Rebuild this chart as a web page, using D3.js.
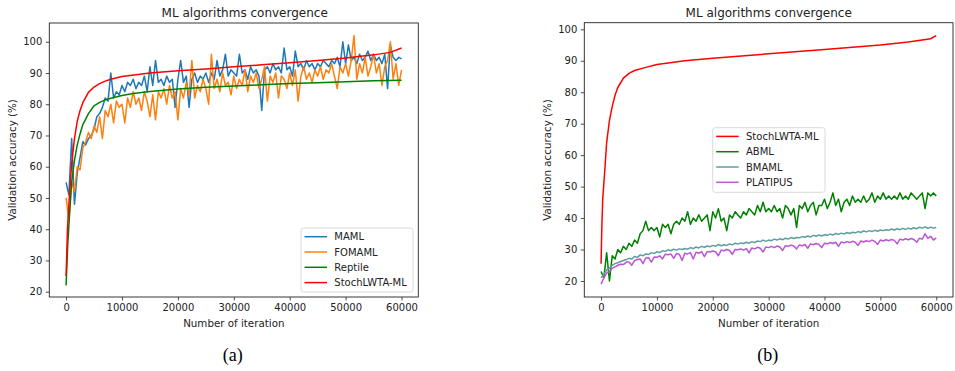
<!DOCTYPE html>
<html><head><meta charset="utf-8">
<script src="https://cdn.jsdelivr.net/npm/d3@7"></script>
<style>
body{margin:0;background:#fff;}
svg{display:block;font-family:"DejaVu Sans",sans-serif;}
</style></head>
<body><svg id="c" width="955" height="371"></svg>
<script>
// ---------------- DATA ----------------
const title = "ML algorithms convergence";
const xLabel = "Number of iteration";
const yLabel = "Validation accuracy (%)";
const xTicks = [0, 10000, 20000, 30000, 40000, 50000, 60000];
const yTicks = [20, 30, 40, 50, 60, 70, 80, 90, 100];
const captions = ["(a)", "(b)"];

// noisy series sampled every 500 iterations (0 .. 60000)
const iterStep = 500;
const mamlVals = [
 55,51,69,48,58,63,68,67,69,70,72,
 76,77,79,82,81,90,82,84,83,86,
 84,87,86,88,85,87,86,89,84,92,
 86,94,87,88,86,89,87,88,79,88,
 94,87,89,79,88,90,87,89,88,90,
 87,90,88,94,89,91,96,89,91,90,
 89,96,90,91,88,92,90,91,89,78,
 91,92,90,93,91,92,90,98,91,92,
 89,97,92,93,91,94,92,93,91,93,
 92,94,93,92,94,93,95,92,100,93,
 99,94,95,93,96,94,95,97,94,96,
 94,95,93,96,85,99,95,94,95,94.5];
const fomamlVals = [
 50,43,55,52,60,59,66,68,71,69,73,
 71,76,69,78,76,80,74,81,79,80,
 74,82,79,84,80,82,78,84,81,76,
 83,75,84,82,85,80,86,82,84,75,
 85,82,87,83,94,82,86,84,88,85,
 80,96,85,88,84,90,86,87,83,89,
 85,88,86,91,84,89,87,90,85,88,
 92,81,89,87,90,82,89,88,85,90,
 86,91,81,89,92,88,90,87,91,89,
 92,88,91,90,93,89,85,92,90,93,
 89,94,102,88,93,90,95,89,92,96,
 90,93,86,92,94,100,88,93,86,91];
const abmlVals = [
 23,21,29,20,28,27,30,29,31,30,32,
 31,33,32,35,36,39,36,37,36,37,
 34,38,37,38,35,38,39,38,40,39,
 42,38,40,39,41,39,40,41,36,42,
 40,43,39,40,36,41,40,42,41,40,
 42,41,43,42,41,44,42,45,42,43,
 42,44,42,43,40,44,43,41,43,37,
 44,43,45,42,44,45,41,44,44,46,
 43,45,48,44,46,42,45,46,44,47,
 45,46,45,47,45,46,48,45,47,46,
 48,46,47,46,47,46,48,46,47,46,
 48,47,46,47,48,43,48,47,48,47];
const bmamlVals = [
 21,22,23.5,24,25,25.5,25.8,26.2,26.5,26.8,27.2,
 27,27.8,27.5,28.3,28,28.6,28.4,29,28.7,29.3,
 29,29.6,29.4,29.9,29.6,30.1,29.8,30.2,30,30.3,
 30.1,30.6,30.3,30.8,30.5,31,30.7,31.1,30.9,31.3,
 31,31.6,31.2,31.5,31.3,31.8,31.5,32,31.7,32.1,
 31.9,32.3,32,32.5,32.2,32.7,32.5,33,32.6,33,
 32.8,33.3,33,33.4,33.1,33.6,33.3,33.8,33.5,33.8,
 33.7,34.1,33.9,34.3,34,34.5,34.2,34.6,34.3,34.7,
 34.5,34.9,34.6,35.1,34.8,35.2,34.9,35.4,35.1,35.5,
 35.3,35.7,35.4,35.9,35.6,36,35.7,36.1,35.8,36.2,
 36,36.3,36.1,36.5,36.2,36.6,36.3,36.7,36.4,36.8,
 36.5,36.9,36.6,37.1,36.8,37.2,36.7,37.1,36.8,37];
const platipusVals = [
 19,21,22.5,23,24,24.5,25,25.3,25.2,26,26,
 25,26.5,26.8,27,25.5,27.3,27.4,26,27.6,27.5,
 28,27,28.5,28.3,28.6,27.2,28.7,28.5,26.5,28.8,
 28.6,29,27,29.1,28.8,29.3,27.7,29.4,29.2,29.5,
 29.3,28,29.8,29.6,30,29.7,28.5,30,29.9,30.2,
 29.8,30.3,28.9,30.5,30.2,30.7,30.4,29.2,30.8,30.6,
 31,30.6,31.1,30.8,29.7,31.2,31,31.4,31.1,30.2,
 31.4,31.2,31.6,30.4,31.8,31.5,31.9,31.6,30.6,32,
 31.8,32.2,31.9,32.3,31,32.4,32.1,32.5,32.2,32.6,
 32.3,31.3,32.7,32.4,32.8,32.5,33,32.6,31.6,33,
 32.7,33.1,32.8,33.2,32.9,31.8,33.3,33,33.4,33.1,
 33.5,33.2,32.3,33.6,33.3,35,33.5,34.2,33,33.7];

// smooth series (iteration, value)
const reptileIter = [0,300,700,1000,1500,2000,2500,3000,4000,5000,6000,7000,8000,10000,12000,15000,20000,25000,30000,35000,40000,45000,50000,55000,60000];
const reptileVals = [22,35,47,55,62,67,70.5,73.5,77,79.5,80.6,81.4,81.9,82.8,83.4,84.1,84.9,85.4,85.8,86.2,86.6,86.9,87.2,87.5,87.7];
const stochAIter = [0,250,500,1000,1500,2000,2500,3000,4000,5000,6000,7000,8000,10000,15000,20000,25000,30000,35000,40000,45000,50000,55000,58000,60000];
const stochAVals = [25,40,48,61,69,74.5,78,80.5,83.8,85.5,86.6,87.4,88,88.9,90,90.7,91.3,92,92.6,93.3,94,94.8,95.8,96.6,98];
const stochBIter = [0,150,300,700,1000,1500,2000,2500,3000,4000,5000,6000,8000,10000,15000,20000,30000,40000,50000,55000,59000,60000];
const stochBVals = [25.5,38,46,56,64,71,75.5,79,81.5,84.5,86,86.9,87.9,88.8,90,90.8,92.2,93.6,95,96,97,98];

const colorsA = {MAML:"#1f77b4", FOMAML:"#ff7f0e", Reptile:"#008000", "StochLWTA-ML":"#ff0000"};
const colorsB = {"StochLWTA-ML":"#ff0000", ABML:"#008000", BMAML:"#5f9ea0", PLATIPUS:"#ba55d3"};

// -------------- BUILD --------------
const iters = mamlVals.map((_, i) => i * iterStep);
const pts = (xs, ys) => xs.map((x, i) => [x, ys[i]]);

const panelA = {
  box:[49.3, 418.3, 23, 297], y:[18.3, 106], titleX:244.7, ylabX:16, tickEnd:41.7,
  series:[
    {name:"MAML", color:colorsA.MAML, data:pts(iters, mamlVals)},
    {name:"FOMAML", color:colorsA.FOMAML, data:pts(iters, fomamlVals)},
    {name:"Reptile", color:colorsA.Reptile, data:pts(reptileIter, reptileVals)},
    {name:"StochLWTA-ML", color:colorsA["StochLWTA-ML"], data:pts(stochAIter, stochAVals)}
  ],
  legend:{x:301, y:228, w:112, h:64}, caption:captions[0]
};
const panelB = {
  box:[584.3, 953, 22.7, 297], y:[14.9, 102.1], titleX:768.7, ylabX:551, tickEnd:577.3,
  series:[
    {name:"StochLWTA-ML", color:colorsB["StochLWTA-ML"], data:pts(stochBIter, stochBVals)},
    {name:"ABML", color:colorsB.ABML, data:pts(iters, abmlVals)},
    {name:"BMAML", color:colorsB.BMAML, data:pts(iters, bmamlVals)},
    {name:"PLATIPUS", color:colorsB.PLATIPUS, data:pts(iters, platipusVals)}
  ],
  legend:{x:712.7, y:127.7, w:112.3, h:64.6}, caption:captions[1]
};

const svg = d3.select("#c");

function drawPanel(p) {
  const [x0, x1, y0, y1] = p.box;
  const xs = d3.scaleLinear().domain([-3000, 63000]).range([x0, x1]);
  const ys = d3.scaleLinear().domain(p.y).range([y1, y0]);
  const g = svg.append("g");
  const clipId = "clip" + Math.round(x0);
  svg.append("clipPath").attr("id", clipId).append("rect")
    .attr("x", x0).attr("y", y0).attr("width", x1 - x0).attr("height", y1 - y0);

  const line = d3.line().x(d => xs(d[0])).y(d => ys(d[1]));
  const lg = g.append("g").attr("clip-path", `url(#${clipId})`);
  p.series.forEach(s => {
    lg.append("path").attr("d", line(s.data)).attr("fill", "none")
      .attr("stroke", s.color).attr("stroke-width", 1.5).attr("stroke-linejoin", "round");
  });

  // axes
  const xa = d3.axisBottom(xs).tickValues(xTicks).tickFormat(d3.format("d")).tickSizeOuter(0).tickSize(3.5).tickPadding(3);
  const ya = d3.axisLeft(ys).tickValues(yTicks).tickFormat(d3.format("d")).tickSizeOuter(0).tickSize(3.5).tickPadding(3.5);
  const gx = g.append("g").attr("transform", `translate(0,${y1})`).call(xa);
  const gy = g.append("g").attr("transform", `translate(${x0},0)`).call(ya);
  [gx, gy].forEach(a => {
    a.select(".domain").remove();
    a.selectAll("line").attr("stroke", "#222").attr("stroke-width", 0.8);
    a.selectAll("text").attr("font-size", 10).attr("fill", "#222").attr("font-family", "DejaVu Sans");
  });
  g.append("rect").attr("x", x0).attr("y", y0).attr("width", x1 - x0).attr("height", y1 - y0)
    .attr("fill", "none").attr("stroke", "#222").attr("stroke-width", 0.9);

  g.append("text").attr("x", p.titleX).attr("y", 17).attr("text-anchor", "middle")
    .attr("font-size", 12).attr("fill", "#222").text(title);
  g.append("text").attr("x", (x0 + x1) / 2).attr("y", 327).attr("text-anchor", "middle")
    .attr("font-size", 10.3).attr("fill", "#222").text(xLabel);
  g.append("text").attr("transform", `translate(${p.ylabX},160) rotate(-90)`).attr("text-anchor", "middle")
    .attr("font-size", 10.3).attr("fill", "#222").text(yLabel);

  // legend
  const L = p.legend;
  const lgd = g.append("g");
  lgd.append("rect").attr("x", L.x).attr("y", L.y).attr("width", L.w).attr("height", L.h)
    .attr("rx", 2.5).attr("fill", "#fff").attr("fill-opacity", 0.8).attr("stroke", "#d0d0d0").attr("stroke-width", 0.8);
  p.series.forEach((s, i) => {
    const cy = L.y + 8.7 + i * 15.3;
    lgd.append("line").attr("x1", L.x + 3.5).attr("x2", L.x + 26).attr("y1", cy).attr("y2", cy)
      .attr("stroke", s.color).attr("stroke-width", 1.5);
    lgd.append("text").attr("x", L.x + 33.3).attr("y", cy).attr("dy", "0.35em")
      .attr("font-size", 10).attr("fill", "#222").text(s.name);
  });

  svg.append("text").attr("x", (x0 + x1) / 2 - 1).attr("y", 361).attr("text-anchor", "middle")
    .attr("font-family", "Liberation Serif, serif").attr("font-size", 18).attr("fill", "#000").text(p.caption);
}
drawPanel(panelA);
drawPanel(panelB);
</script></body></html>
